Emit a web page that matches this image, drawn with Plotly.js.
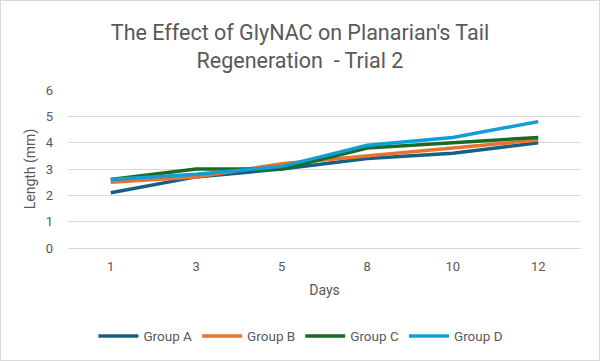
<!DOCTYPE html>
<html>
<head>
<meta charset="utf-8">
<script src="https://cdn.plot.ly/plotly-3.0.1.min.js"></script>
<style>
  html, body { margin: 0; padding: 0; background: #ffffff; }
  #chart { width: 598px; height: 359px; border: 1px solid #d9d9d9; }
</style>
</head>
<body>
<div id="chart"></div>
<script>
// Tail length (mm) measured on each observation day
const days = ["1", "3", "5", "8", "10", "12"];
const groupA = [2.1, 2.7, 3.0, 3.4, 3.6, 4.0];
const groupB = [2.5, 2.7, 3.2, 3.5, 3.8, 4.1];
const groupC = [2.6, 3.0, 3.0, 3.8, 4.0, 4.2];
const groupD = [2.6, 2.8, 3.1, 3.9, 4.2, 4.8];
const seriesNames = ["Group A", "Group B", "Group C", "Group D"];
const seriesColors = ["#156082", "#E97132", "#196B24", "#0F9ED5"];

const font = "Roboto, sans-serif";
const grey = "#595959";

const traces = [groupA, groupB, groupC, groupD].map((vals, i) => ({
  type: "scatter",
  mode: "lines",
  name: seriesNames[i],
  x: days,
  y: vals,
  line: { color: seriesColors[i], width: 3.5 },
  hoverinfo: "x+y+name"
}));

const layout = {
  width: 598,
  height: 359,
  paper_bgcolor: "#ffffff",
  plot_bgcolor: "#ffffff",
  margin: { l: 67, r: 18, t: 89, b: 112 },
  font: { family: font, color: grey, size: 13 },
  title: {
    text: "The Effect of GlyNAC on Planarian's Tail<br>Regeneration  - Trial 2",
    font: { family: font, size: 21.5, color: grey },
    x: 0.5,
    xanchor: "center",
    y: 0.89,
    yanchor: "top"
  },
  xaxis: {
    type: "category",
    range: [-0.5, 5.5],
    showgrid: false,
    zeroline: false,
    showline: false,
    ticks: "",
    ticklabelstandoff: 9,
    tickfont: { size: 13, color: grey },
    title: { text: "Days", font: { size: 14, color: grey }, standoff: 12 }
  },
  yaxis: {
    range: [0, 6],
    dtick: 1,
    showgrid: true,
    gridcolor: "#d9d9d9",
    gridwidth: 1,
    zeroline: true,
    zerolinecolor: "#d9d9d9",
    zerolinewidth: 1,
    ticks: "",
    ticklabelstandoff: 14,
    tickfont: { size: 13, color: grey },
    title: { text: "Length (mm)", font: { size: 14, color: grey }, standoff: 6 }
  },
  legend: {
    orientation: "h",
    xref: "paper",
    x: 0.454,
    xanchor: "center",
    yref: "container",
    y: 0.066,
    yanchor: "middle",
    font: { size: 13.5, color: grey },
    itemwidth: 40,
    tracegroupgap: 0
  },
  showlegend: true
};

Plotly.newPlot("chart", traces, layout, { displayModeBar: false, staticPlot: true });
</script>
</body>
</html>
